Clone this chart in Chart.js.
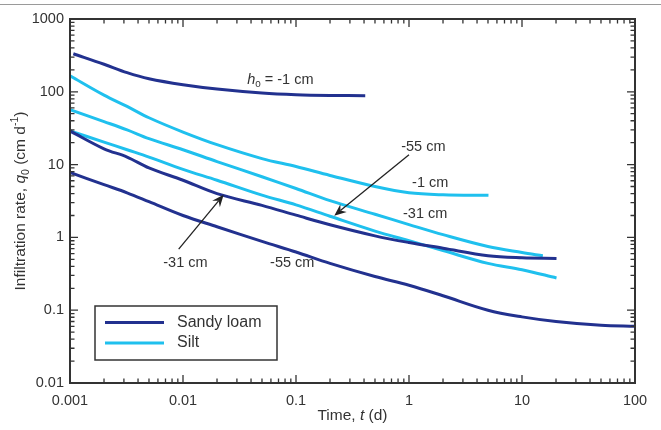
<!DOCTYPE html>
<html>
<head>
<meta charset="utf-8">
<script src="https://cdn.jsdelivr.net/npm/chart.js@4.4.1/dist/chart.umd.min.js"></script>
<style>
    html, body { margin: 0; padding: 0; background: #fff; }
    #wrap { position: relative; width: 661px; height: 430px; }
    #topRule { position: absolute; left: 0; top: 4px; width: 661px; height: 1px; background: #9a9a9a; }
</style>
</head>
<body>
<div id="wrap">
    <div id="topRule"></div>
    <canvas id="infiltrationChart"></canvas>
</div>
<script>
document.addEventListener( "DOMContentLoaded", () => {

    // Style
    // ----------------------------------------------
    const FONT        = '"Liberation Sans", Arial, sans-serif';
    const textColor   = "#333";
    const sandyColor  = "#22318f";
    const siltColor   = "#1fc0ee";


    // Data: time (d) and infiltration rate (cm/d), one pair per curve
    // ----------------------------------------------
    const sandyTime1  = [0.00107, 0.002, 0.0032, 0.005, 0.01, 0.02, 0.05, 0.1, 0.2, 0.41];
    const sandyRate1  = [333, 239, 183, 151, 125, 109, 96, 91, 89, 88.5];

    const sandyTime31 = [0.001, 0.002, 0.0032, 0.005, 0.01, 0.02, 0.05, 0.1, 0.2, 0.5, 1, 2, 5, 10, 20.2];
    const sandyRate31 = [29, 16.5, 12.7, 9, 6.1, 4.0, 2.75, 2.02, 1.49, 1.05, 0.85, 0.71, 0.56, 0.525, 0.515];

    const sandyTime55 = [0.001, 0.002, 0.0032, 0.005, 0.01, 0.02, 0.05, 0.1, 0.2, 0.5, 1, 2, 5, 10, 20, 50, 100];
    const sandyRate55 = [7.8, 5.3, 4.1, 3.1, 2.0, 1.4, 0.88, 0.63, 0.44, 0.29, 0.22, 0.158, 0.10, 0.081, 0.07, 0.062, 0.06];

    const siltTime1   = [0.001, 0.002, 0.0032, 0.005, 0.01, 0.02, 0.05, 0.1, 0.2, 0.5, 1, 2, 5.05];
    const siltRate1   = [166, 90, 63, 44, 28, 18.8, 12.1, 9.4, 7.1, 5.0, 4.1, 3.85, 3.78];

    const siltTime31  = [0.001, 0.002, 0.0032, 0.005, 0.01, 0.02, 0.05, 0.1, 0.2, 0.5, 1, 2, 5, 10, 15.3];
    const siltRate31  = [57, 39, 30, 22.7, 16, 11, 6.8, 4.7, 3.2, 2.08, 1.5, 1.09, 0.75, 0.62, 0.56];

    const siltTime55  = [0.001, 0.002, 0.0032, 0.005, 0.01, 0.02, 0.05, 0.1, 0.2, 0.5, 1, 2, 5, 10, 20.2];
    const siltRate55  = [29, 20.4, 16, 12.7, 8.6, 6.1, 3.8, 2.8, 1.95, 1.22, 0.9, 0.66, 0.44, 0.36, 0.277];

    const xTickValues = [0.001, 0.01, 0.1, 1, 10, 100];
    const yTickValues = [0.01, 0.1, 1, 10, 100, 1000];
    const legendLabels = ["Sandy loam", "Silt"];

    // Curve labels and arrows, anchored in data units
    const curveLabels = [
        { x: 0.037,  y: 147,  align: "left",   parts: [{ t: "h", italic: true }, { t: "0", sub: true }, { t: " = -1 cm" }] },
        { x: 1.34,   y: 17.6, align: "center", parts: [{ t: "-55 cm" }] },
        { x: 1.54,   y: 5.6,  align: "center", parts: [{ t: "-1 cm" }] },
        { x: 1.39,   y: 2.09, align: "center", parts: [{ t: "-31 cm" }] },
        { x: 0.0105, y: 0.45, align: "center", parts: [{ t: "-31 cm" }] },
        { x: 0.0927, y: 0.45, align: "center", parts: [{ t: "-55 cm" }] }
    ];
    const arrows = [
        { from: [1.0, 13.7],     to: [0.218, 1.99] },
        { from: [0.00916, 0.69], to: [0.0229, 3.86] }
    ];


    // Helpers
    // ----------------------------------------------
    const toPoints = ( times, rates ) => times.map( ( t, i ) => ({ x: t, y: rates[i] }) );

    function drawRich( ctx, parts, x, y, align, size ) {
        const fontOf = p => ( p.italic ? "italic " : "" ) + ( p.sub || p.sup ? size * 0.68 : size ) + "px " + FONT;
        let total = 0;
        parts.forEach( p => { ctx.font = fontOf( p ); total += ctx.measureText( p.t ).width; } );
        let cx = align === "center" ? x - total / 2 : x;
        ctx.textAlign = "left";
        ctx.textBaseline = "middle";
        parts.forEach( p => {
            ctx.font = fontOf( p );
            const dy = p.sub ? size * 0.32 : ( p.sup ? -size * 0.38 : 0 );
            ctx.fillText( p.t, cx, y + dy );
            cx += ctx.measureText( p.t ).width;
        });
    }

    function lineSet( label, times, rates, color ) {
        return {
            label: label,
            data: toPoints( times, rates ),
            borderColor: color,
            backgroundColor: color,
            borderWidth: 3,
            pointRadius: 0,
            tension: 0.35
        };
    }


    // Frame with inward ticks on all sides
    // ----------------------------------------------
    const framePlugin = {
        id: "frame",
        afterDatasetsDraw( chart ) {
            const { ctx, chartArea: ca, scales: { x, y } } = chart;
            ctx.save();
            ctx.strokeStyle = textColor;
            ctx.lineWidth = 1.3;
            ctx.beginPath();
            const tickSet = ( values, fn ) => {
                values.forEach( ( d, k ) => {
                    const last = k === values.length - 1;
                    for ( let m = 1; m <= ( last ? 1 : 9 ); m++ ) fn( m * d, m === 1 ? 8 : 4.5 );
                });
            };
            tickSet( xTickValues, ( v, len ) => {
                const px = x.getPixelForValue( v );
                ctx.moveTo( px, ca.bottom ); ctx.lineTo( px, ca.bottom - len );
                ctx.moveTo( px, ca.top );    ctx.lineTo( px, ca.top + len );
            });
            tickSet( yTickValues, ( v, len ) => {
                const py = y.getPixelForValue( v );
                ctx.moveTo( ca.left, py );  ctx.lineTo( ca.left + len, py );
                ctx.moveTo( ca.right, py ); ctx.lineTo( ca.right - len, py );
            });
            ctx.stroke();
            ctx.lineWidth = 2;
            ctx.strokeRect( ca.left, ca.top, ca.right - ca.left, ca.bottom - ca.top );
            ctx.restore();
        }
    };


    // Annotations, axis titles and legend
    // ----------------------------------------------
    const decorPlugin = {
        id: "decor",
        afterDraw( chart ) {
            const { ctx, chartArea: ca, scales: { x, y } } = chart;
            ctx.save();
            ctx.fillStyle = textColor;

            curveLabels.forEach( l => {
                drawRich( ctx, l.parts, x.getPixelForValue( l.x ), y.getPixelForValue( l.y ), l.align, 14.5 );
            });

            // Arrows
            ctx.strokeStyle = "#222";
            ctx.fillStyle = "#222";
            ctx.lineWidth = 1.3;
            arrows.forEach( a => {
                const x0 = x.getPixelForValue( a.from[0] ), y0 = y.getPixelForValue( a.from[1] );
                const x1 = x.getPixelForValue( a.to[0] ),   y1 = y.getPixelForValue( a.to[1] );
                const ang = Math.atan2( y1 - y0, x1 - x0 );
                ctx.beginPath();
                ctx.moveTo( x0, y0 );
                ctx.lineTo( x1 - 8 * Math.cos( ang ), y1 - 8 * Math.sin( ang ) );
                ctx.stroke();
                ctx.beginPath();
                ctx.moveTo( x1, y1 );
                ctx.lineTo( x1 - 12 * Math.cos( ang ) + 5 * Math.sin( ang ), y1 - 12 * Math.sin( ang ) - 5 * Math.cos( ang ) );
                ctx.lineTo( x1 - 8 * Math.cos( ang ), y1 - 8 * Math.sin( ang ) );
                ctx.lineTo( x1 - 12 * Math.cos( ang ) - 5 * Math.sin( ang ), y1 - 12 * Math.sin( ang ) + 5 * Math.cos( ang ) );
                ctx.closePath();
                ctx.fill();
            });

            // Axis titles
            ctx.fillStyle = textColor;
            drawRich( ctx, [{ t: "Time, " }, { t: "t", italic: true }, { t: " (d)" }],
                ( ca.left + ca.right ) / 2, 416, "center", 15.5 );
            ctx.save();
            ctx.translate( 21, ( ca.top + ca.bottom ) / 2 );
            ctx.rotate( -Math.PI / 2 );
            drawRich( ctx, [{ t: "Infiltration rate, " }, { t: "q", italic: true }, { t: "0", sub: true },
                { t: " (cm d" }, { t: "-1", sup: true }, { t: ")" }], 0, 0, "center", 15.5 );
            ctx.restore();

            // Legend box
            const bx = ca.left + 25, by = ca.bottom - 77;
            ctx.fillStyle = "#fff";
            ctx.fillRect( bx, by, 182, 54 );
            ctx.strokeStyle = textColor;
            ctx.lineWidth = 1.5;
            ctx.strokeRect( bx, by, 182, 54 );
            [sandyColor, siltColor].forEach( ( c, i ) => {
                const ly = by + 16.5 + i * 20.5;
                ctx.strokeStyle = c;
                ctx.lineWidth = 3;
                ctx.beginPath();
                ctx.moveTo( bx + 10, ly );
                ctx.lineTo( bx + 69, ly );
                ctx.stroke();
                ctx.fillStyle = textColor;
                ctx.font = "16px " + FONT;
                ctx.textAlign = "left";
                ctx.textBaseline = "middle";
                ctx.fillText( legendLabels[i], bx + 82, ly );
            });
            ctx.restore();
        }
    };


    // Chart
    // ----------------------------------------------
    new Chart(
        document.getElementById( "infiltrationChart" ), {
            type: "line",
            data: {
                datasets: [
                    lineSet( "Sandy loam -1 cm",  sandyTime1,  sandyRate1,  sandyColor ),
                    lineSet( "Sandy loam -31 cm", sandyTime31, sandyRate31, sandyColor ),
                    lineSet( "Sandy loam -55 cm", sandyTime55, sandyRate55, sandyColor ),
                    lineSet( "Silt -1 cm",        siltTime1,   siltRate1,   siltColor ),
                    lineSet( "Silt -31 cm",       siltTime31,  siltRate31,  siltColor ),
                    lineSet( "Silt -55 cm",       siltTime55,  siltRate55,  siltColor )
                ]
            },
            options: {
                responsive: true,
                maintainAspectRatio: false,
                animation: false,
                layout: { padding: { top: 19, right: 26, left: 0, bottom: 0 } },
                plugins: {
                    legend: { display: false },
                    tooltip: { enabled: false }
                },
                scales: {
                    x: {
                        type: "logarithmic",
                        min: 0.001,
                        max: 100,
                        grid: { display: false, drawTicks: false },
                        border: { display: false },
                        afterBuildTicks: scale => { scale.ticks = xTickValues.map( v => ({ value: v }) ); },
                        afterFit: scale => { scale.height = 47; },
                        ticks: {
                            font: { size: 14.5, family: FONT },
                            color: textColor,
                            padding: 9,
                            maxRotation: 0,
                            autoSkip: false,
                            callback: v => String( v )
                        }
                    },
                    y: {
                        type: "logarithmic",
                        min: 0.01,
                        max: 1000,
                        grid: { display: false, drawTicks: false },
                        border: { display: false },
                        afterBuildTicks: scale => { scale.ticks = yTickValues.map( v => ({ value: v }) ); },
                        afterFit: scale => { scale.width = 70; },
                        ticks: {
                            font: { size: 14.5, family: FONT },
                            color: textColor,
                            padding: 6,
                            autoSkip: false,
                            callback: v => String( v )
                        }
                    }
                }
            },
            plugins: [framePlugin, decorPlugin]
        }
    );

});
</script>
</body>
</html>
